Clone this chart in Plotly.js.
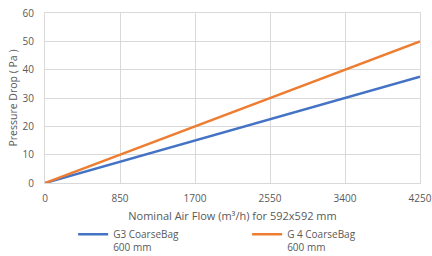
<!DOCTYPE html>
<html><head><meta charset="utf-8">
<script src="https://cdn.plot.ly/plotly-3.0.1.min.js"></script>
<style>body{margin:0;padding:0;}#c{width:432px;height:256px;}</style>
</head><body><div id="c"></div>
<script>
const airFlow = [0, 850, 1700, 2550, 3400, 4250];
const g3Drop = [0, 7.5, 15, 22.5, 30, 37.5];
const g4Drop = [0, 10, 20, 30, 40, 50];
const seriesNames = ["G3 CoarseBag<br>600 mm", "G 4 CoarseBag<br>600 mm"];
const xTicks = [0, 850, 1700, 2550, 3400, 4250];
const yTicks = [0, 10, 20, 30, 40, 50, 60];

const font = {family: "Open Sans, Liberation Sans, sans-serif", size: 10, color: "#595959"};
const traces = [
  {x: airFlow, y: g3Drop, name: seriesNames[0], mode: "lines", line: {color: "#4472C4", width: 2.5}},
  {x: airFlow, y: g4Drop, name: seriesNames[1], mode: "lines", line: {color: "#ED7D31", width: 2.5}}
];
const layout = {
  width: 432, height: 256,
  margin: {l: 45, r: 12, t: 12.5, b: 73, autoexpand: false},
  paper_bgcolor: "#ffffff", plot_bgcolor: "#ffffff",
  font: font,
  showlegend: true,
  xaxis: {
    range: [0, 4250], tickvals: xTicks, ticktext: xTicks.map(String),
    showgrid: true, gridcolor: "#d9d9d9", gridwidth: 1,
    zeroline: false, showline: true, linecolor: "#d9d9d9", linewidth: 1, mirror: true,
    ticks: "", ticklabelstandoff: 6,
    tickfont: {size: 10, color: "#595959"},
    title: {text: "Nominal Air Flow (m³/h) for 592x592 mm", font: {size: 11, color: "#595959"}, standoff: 8}
  },
  yaxis: {
    range: [0, 60], tickvals: yTicks, ticktext: yTicks.map(String),
    showgrid: true, gridcolor: "#d9d9d9", gridwidth: 1,
    zeroline: false, showline: true, linecolor: "#d9d9d9", linewidth: 1, mirror: true,
    ticks: "", ticklabelstandoff: 8,
    tickfont: {size: 10, color: "#595959"},
    title: {text: "Pressure Drop ( Pa )", font: {size: 10.5, color: "#595959"}, standoff: 2}
  },
  legend: {
    orientation: "h", x: 0.075, y: -0.225, xanchor: "left", yanchor: "top",
    entrywidth: 129, entrywidthmode: "pixels", valign: "top",
    font: {size: 10, color: "#595959"}, itemwidth: 30, tracegroupgap: 0
  }
};
Plotly.newPlot("c", traces, layout, {staticPlot: true, displayModeBar: false});
</script></body></html>
